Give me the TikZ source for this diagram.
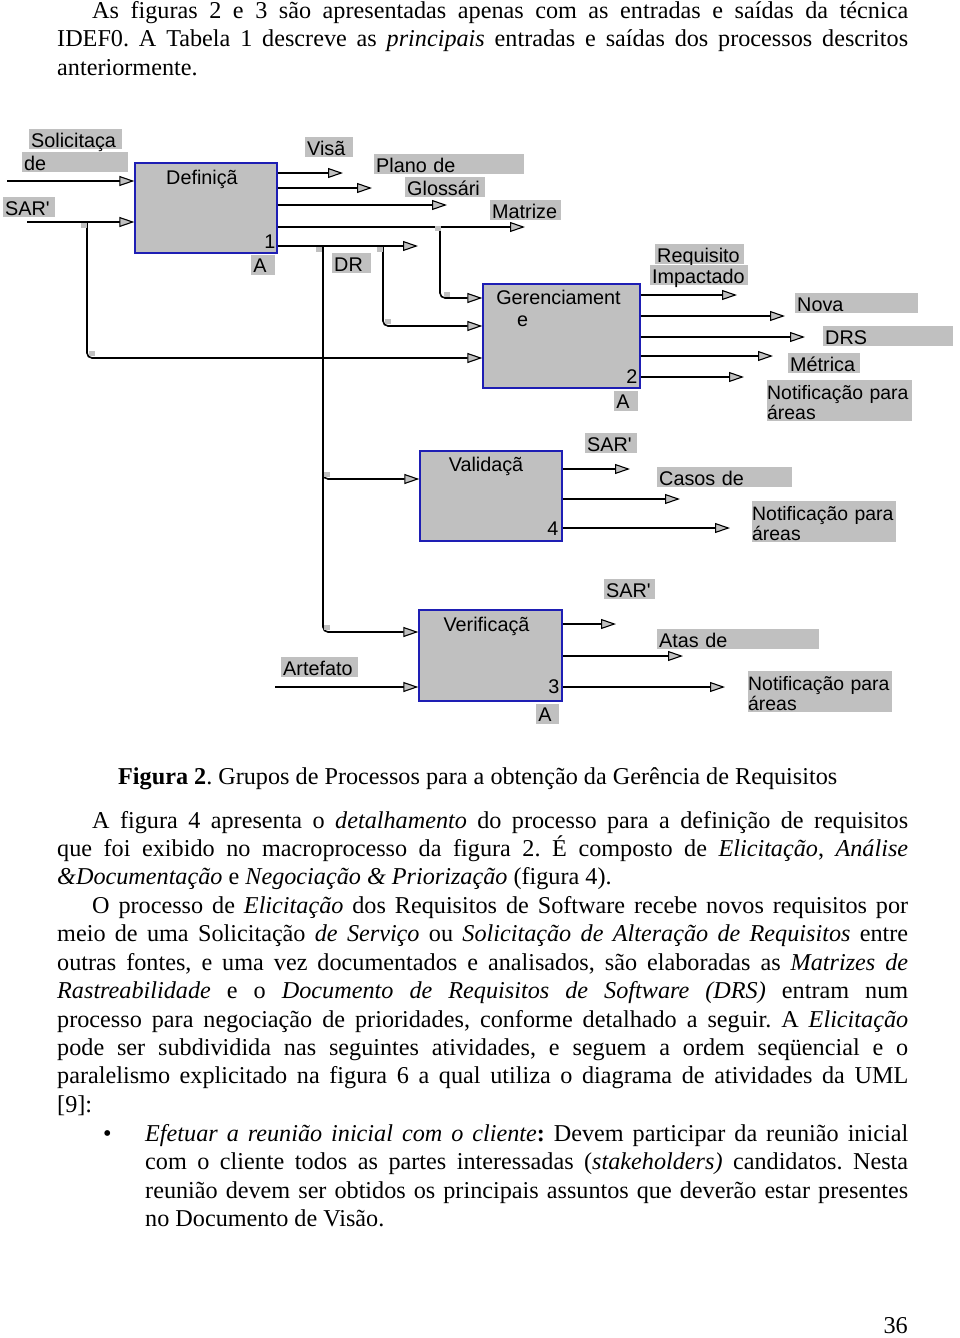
\documentclass[tikz,border=0pt]{standalone}
\usepackage{fontspec}
\setmainfont{Liberation Serif}
\newfontfamily\diagfont{Liberation Sans}
\usepackage{xcolor}
\definecolor{procgray}{HTML}{C0C0C0}
\definecolor{procblue}{HTML}{1E1EB4}
\definecolor{tagfill}{HTML}{C0C0C0}
\usepackage{tikz}
\usetikzlibrary{arrows.meta}
\frenchspacing
\tikzset{
    proc/.style={
        draw=procblue, fill=procgray,
        line width=1.3pt, inner sep=0pt
    },
    boxtitle/.style={anchor=base, inner sep=0pt,
        font=\diagfont\fontsize{19.8}{20}\selectfont},
    boxnum/.style={boxtitle, anchor=base east},
    tag/.style={
        fill=tagfill, anchor=north west,
        inner xsep=2pt, inner ysep=0pt,
        text height=18pt, text depth=2pt,
        text width=#1, align=left,
        font=\diagfont\fontsize{19.8}{20}\selectfont
    },
    tagtwo/.style={tag=#1, inner xsep=0pt, text height=19pt, text depth=22pt,
        font=\diagfont\fontsize{19.4}{20}\selectfont},
    flow/.style={
        line width=1.6pt,
        -{Triangle[length=15pt, width=10pt, fill=tagfill, line width=1.1pt]},
    },
    body/.style={anchor=base west, inner sep=0pt,
        font=\fontsize{24.2}{28.5}\selectfont},
}

\begin{document}
\begin{tikzpicture}[x=1pt, y=-1pt]
        \useasboundingbox (0,0) rectangle (960,1338);

        % text above the figure
        \node[body] (p1a) at (92,19) {\makebox[816pt][s]{As figuras 2 e 3 são apresentadas apenas com as entradas e saídas da técnica}};
        \node[body] (p1b) at (57,47) {\makebox[851pt][s]{IDEF0. A Tabela 1 descreve as \textit{principais} entradas e saídas dos processos descritos}};
        \node[body] (p1c) at (57,75) {anteriormente.};

        % process boxes
        \node[proc, minimum width=142pt, minimum height=90pt] (def) at (206,208) {};
        \node[proc, minimum width=157pt, minimum height=104pt] (ger) at (561.5,336) {};
        \node[proc, minimum width=142pt, minimum height=90pt] (val) at (491,496) {};
        \node[proc, minimum width=143pt, minimum height=91pt] (ver) at (490.5,655.5) {};

        \node[boxtitle] (def-t) at ([xshift=-4pt, yshift=-22pt]def.north) {Definiçã};
        \node[boxtitle] (ger-t) at ([xshift=-3pt, yshift=-21pt]ger.north) {Gerenciament};
        \node[boxtitle, anchor=base west] (ger-e) at (517,326) {e};
        \node[boxtitle] (val-t) at ([xshift=-5pt, yshift=-21pt]val.north) {Validaçã};
        \node[boxtitle] (ver-t) at ([xshift=-4pt, yshift=-22pt]ver.north) {Verificaçã};

        \node[boxnum] (def-n) at ([xshift=-2pt, yshift=5pt]def.south east) {1};
        \node[boxnum] (ger-n) at ([xshift=-3pt, yshift=5pt]ger.south east) {2};
        \node[boxnum] (val-n) at ([xshift=-4pt, yshift=6pt]val.south east) {4};
        \node[boxnum] (ver-n) at ([xshift=-3pt, yshift=8pt]ver.south east) {3};

        \node[tag=20pt, anchor=north east] (def-a) at ([xshift=-2pt, yshift=-1pt]def.south east) {A};
        \node[tag=20pt, anchor=north east] (ger-a) at ([xshift=-2pt, yshift=-2pt]ger.south east) {A};
        \node[tag=19pt, anchor=north east] (ver-a) at ([xshift=-3pt, yshift=-2pt]ver.south east) {A};

        % arrow labels
        \node[tag=89pt] (sol1) at (29,129) {Solicitaça};
        \node[tag=102pt] (sol2) at (22,152) {de};
        \node[tag=48pt] (sar1) at (3,197) {SAR'};
        \node[tag=44pt] (visl) at (305,137) {Visã};
        \node[tag=146pt] (plal) at (374,154) {Plano de};
        \node[tag=76pt] (glol) at (405,177) {Glossári};
        \node[tag=67pt] (matl) at (490,200) {Matrize};
        \node[tag=35pt] (drl) at (332,253) {DR};
        \node[tag=85pt] (req1) at (655,244) {Requisito};
        \node[tag=94pt] (req2) at (650,265) {Impactado};
        \node[tag=119pt] (novl) at (795,293) {Nova};
        \node[tag=130pt, inner xsep=0pt] (drsl) at (823,326) {\hspace*{2pt}DRS};
        \node[tag=68pt] (metl) at (788,353) {Métrica};
        \node[tagtwo=145pt] (ntgl) at (767,380) {Notificação para\\áreas};
        \node[tag=48pt] (sarvl) at (585,433) {SAR'};
        \node[tag=131pt] (casl) at (657,467) {Casos de};
        \node[tagtwo=144pt] (ntvl) at (752,501) {Notificação para\\áreas};
        \node[tag=47pt] (sarcl) at (604,579) {SAR'};
        \node[tag=158pt] (atal) at (657,629) {Atas de};
        \node[tag=73pt] (artl) at (281,657) {Artefato};
        \node[tagtwo=144pt] (ntcl) at (748,671) {Notificação para\\áreas};

        % inputs
        \coordinate (solin) at (7,181);
        \coordinate (sarin) at (27,222);
        \coordinate (artin) at (275,687);
        \draw[flow] (solin) -- (solin -| def.west);
        \draw[flow] (sarin) -- (sarin -| def.west);
        \draw[flow] (artin) -- (artin -| ver.west);

        % outputs
        \foreach \b/\y/\x/\n in {def/173/343/vis, def/188/372/pla, def/205/447/glo,
                        def/227/525/mat, def/246/418/dr,
                        ger/295/737/req, ger/316/785/nov, ger/337/805/drs,
                        ger/356/773/met, ger/377/744/ntg,
                        val/469/630/sarv, val/499/680/cas, val/528/730/ntv,
                        ver/624/616/sarc, ver/656/683/ata, ver/687/725/ntc}{
            \coordinate (\n) at (\x,\y);
            \draw[flow] (\b.east |- \n) -- (\n);
        }

        % branches
        \coordinate (sarsplit) at (87,222);
        \coordinate (matsplit) at (440,227);
        \coordinate (drsplit) at (383,246);
        \coordinate (drdown) at (323,246);
        \coordinate (g1) at (0,298);
        \coordinate (g2) at (0,326);
        \coordinate (g3) at (0,358);
        \coordinate (v1) at (0,479);
        \coordinate (v2) at (0,632);
        \draw[flow, rounded corners=5pt] (matsplit) |- (ger.west |- g1);
        \draw[flow, rounded corners=5pt] (drsplit) |- (ger.west |- g2);
        \draw[flow, rounded corners=5pt] (sarsplit) |- (ger.west |- g3);
        \draw[flow, rounded corners=5pt] (drdown) |- (val.west |- v1);
        \draw[flow, rounded corners=5pt] (drdown) |- (ver.west |- v2);

        \foreach \p in {(81,223), (89,351), (316,247), (377,247), (435,226),
                        (444,292), (385,319), (324,472), (324,625)}
            \fill[tagfill] \p rectangle ++(6,5);

        % caption and text below
        \node[body] (cap) at (118,784) {\textbf{Figura 2}. Grupos de Processos para a obtenção da Gerência de Requisitos};

        \node[body] (p2a) at (92,828) {\makebox[816pt][s]{A figura 4 apresenta o \textit{detalhamento} do processo para a definição de requisitos}};
        \node[body] (p2b) at (57,856) {\makebox[851pt][s]{que foi exibido no macroprocesso da figura 2. É composto de \textit{Elicitação}, \textit{Análise}}};
        \node[body] (p2c) at (57,884) {\textit{\&Documentação} e \textit{Negociação \& Priorização} (figura 4).};

        \node[body] (p3a) at (92,913) {\makebox[816pt][s]{O processo de \textit{Elicitação} dos Requisitos de Software recebe novos requisitos por}};
        \node[body] (p3b) at (57,941) {\makebox[851pt][s]{meio de uma Solicitação \textit{de Serviço} ou \textit{Solicitação de Alteração de Requisitos} entre}};
        \node[body] (p3c) at (57,970) {\makebox[851pt][s]{outras fontes, e uma vez documentados e analisados, são elaboradas as \textit{Matrizes de}}};
        \node[body] (p3d) at (57,998) {\makebox[851pt][s]{\textit{Rastreabilidade} e o \textit{Documento de Requisitos de Software (DRS)} entram num}};
        \node[body] (p3e) at (57,1027) {\makebox[851pt][s]{processo para negociação de prioridades, conforme detalhado a seguir. A \textit{Elicitação}}};
        \node[body] (p3f) at (57,1055) {\makebox[851pt][s]{pode ser subdividida nas seguintes atividades, e seguem a ordem seqüencial e o}};
        \node[body] (p3g) at (57,1083) {\makebox[851pt][s]{paralelismo explicitado na figura 6 a qual utiliza o diagrama de atividades da UML}};
        \node[body] (p3h) at (57,1112) {[9]:};

        \node[body] (bul) at (103,1141) {\textbullet};
        \node[body] (b1a) at (145,1141) {\makebox[763pt][s]{\textit{Efetuar a reunião inicial com o cliente}\textbf{:} Devem participar da reunião inicial}};
        \node[body] (b1b) at (145,1169) {\makebox[763pt][s]{com o cliente todos as partes interessadas (\textit{stakeholders)} candidatos. Nesta}};
        \node[body] (b1c) at (145,1198) {\makebox[763pt][s]{reunião devem ser obtidos os principais assuntos que deverão estar presentes}};
        \node[body] (b1d) at (145,1226) {no Documento de Visão.};

        \node[body, anchor=base east] (page) at (908,1333) {36};
\end{tikzpicture}
\end{document}
